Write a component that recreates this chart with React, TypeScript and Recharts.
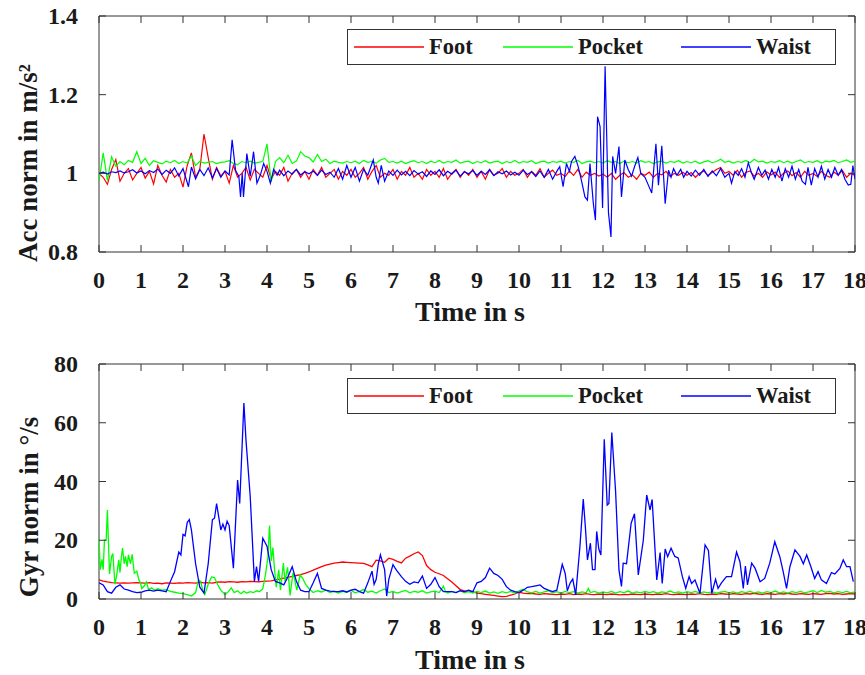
import { LineChart, Line, XAxis, YAxis, ReferenceArea } from "recharts";

const TIME_TICKS = [0, 1, 2, 3, 4, 5, 6, 7, 8, 9, 10, 11, 12, 13, 14, 15, 16, 17, 18];
const ACC_TICKS = [0.8, 1, 1.2, 1.4];
const GYR_TICKS = [0, 20, 40, 60, 80];
const SERIES_NAMES = ["Foot", "Pocket", "Waist"];
const SERIES_COLORS = ["#ff0000", "#00ff00", "#0000ff"];
const DT = 0.1; // sample step of the uniform arrays, in s

// accelerometer norm, m/s^2 (normalised)
const accFoot = [
  1.0, 0.99, 0.972, 1.01, 1.035, 0.98, 1.0, 1.012, 0.983, 1.0,
  1.015, 0.988, 1.005, 0.973, 1.02, 0.995, 0.978, 1.01, 0.99, 1.0,
  0.965, 1.02, 1.052, 0.99, 1.01, 1.1, 1.04, 0.985, 1.015, 0.993,
  1.005, 0.975, 1.02, 0.99, 1.0, 1.015, 0.983, 1.01, 1.0, 0.99,
  1.02, 0.985, 1.005, 0.995, 1.015, 0.98, 1.0, 1.01, 0.99, 1.005,
  0.985, 1.01, 0.995, 1.015, 0.99, 1.0, 1.01, 0.985, 1.005, 0.995,
  1.01, 0.99, 1.0, 1.015, 0.985, 1.005, 1.02, 0.99, 1.0, 0.995,
  1.01, 0.985, 1.005, 0.995, 1.015, 0.99, 1.0, 0.985, 1.01, 0.995,
  1.005, 0.99, 1.012, 0.985, 1.0, 1.01, 0.99, 1.005, 0.995, 1.01,
  0.99, 1.005, 0.985, 1.01, 0.995, 1.0, 1.012, 0.99, 1.005, 0.995,
  1.0, 1.01, 0.99, 1.005, 0.995, 1.012, 0.99, 1.0, 1.008, 0.995,
  1.0, 0.992, 1.006, 0.995, 1.01, 0.99, 1.003, 0.995, 1.0, 0.993,
  0.998, 0.99, 1.0, 0.985, 0.995, 1.002, 0.99, 0.996, 0.985, 1.0,
  0.995, 1.003, 0.99, 1.0, 0.996, 1.005, 0.992, 1.0, 0.995, 1.003,
  0.995, 1.002, 0.99, 1.0, 1.006, 0.995, 1.002, 1.01, 1.015, 1.0,
  1.005, 0.995, 1.008, 0.99, 1.002, 1.006, 0.993, 1.0, 0.99, 1.004,
  0.996, 1.003, 0.99, 1.0, 1.006, 0.994, 1.002, 0.99, 1.005, 0.995,
  1.0, 0.992, 1.005, 0.995, 0.99, 1.003, 0.996, 1.007, 0.99, 1.0,
  0.995,
];

const accPocket = [
  0.98, 1.052, 0.982, 1.042, 1.018, 1.03, 1.022, 1.033, 1.028, 1.055,
  1.025, 1.038, 1.02, 1.032, 1.028, 1.024, 1.031, 1.027, 1.033, 1.025,
  1.03, 1.026, 1.044, 1.02, 1.03, 1.026, 1.028, 1.03, 1.025, 1.028,
  1.029, 1.032, 1.025, 1.022, 1.03, 1.027, 1.031, 1.026, 1.028, 1.03,
  1.075, 0.978, 1.03, 1.04, 1.027, 1.046, 1.025, 1.031, 1.055, 1.044,
  1.04, 1.029, 1.048, 1.03, 1.036, 1.025, 1.031, 1.028, 1.026, 1.03,
  1.027, 1.031, 1.025, 1.033, 1.028, 1.03, 1.026, 1.034, 1.038, 1.028,
  1.03, 1.026, 1.031, 1.025, 1.029, 1.032, 1.027, 1.03, 1.025, 1.031,
  1.027, 1.033, 1.026, 1.03, 1.028, 1.034, 1.026, 1.029, 1.031, 1.025,
  1.03, 1.027, 1.032, 1.026, 1.029, 1.031, 1.025, 1.03, 1.027, 1.033,
  1.026, 1.03, 1.028, 1.032, 1.025, 1.029, 1.031, 1.026, 1.03, 1.028,
  1.031, 1.026, 1.03, 1.028, 1.033, 1.025, 1.029, 1.031, 1.027, 1.03,
  1.026, 1.032, 1.028, 1.03, 1.025, 1.031, 1.027, 1.03, 1.026, 1.032,
  1.028, 1.03, 1.025, 1.029, 1.031, 1.026, 1.03, 1.028, 1.032, 1.026,
  1.03, 1.027, 1.031, 1.025, 1.029, 1.032, 1.027, 1.03, 1.036, 1.028,
  1.031, 1.026, 1.03, 1.028, 1.033, 1.027, 1.036, 1.029, 1.031, 1.026,
  1.03, 1.028, 1.032, 1.027, 1.031, 1.026, 1.03, 1.034, 1.027, 1.03,
  1.028, 1.032, 1.026, 1.031, 1.029, 1.033, 1.027, 1.03, 1.034, 1.028,
  1.031,
];

// [time s, value]
const accWaist: [number, number][] = [
  [0, 1.0], [0.1, 1.003], [0.2, 0.998], [0.3, 1.004], [0.4, 1.002], [0.5, 1.006], [0.6, 1.001],
  [0.7, 1.004], [0.8, 1.009], [0.9, 1.001], [1.0, 1.006], [1.1, 0.999], [1.2, 1.007], [1.3, 1.002],
  [1.4, 1.011], [1.5, 0.997], [1.6, 1.008], [1.7, 1.0], [1.8, 1.014], [1.9, 0.993], [2.0, 1.012],
  [2.13, 0.966], [2.2, 1.016], [2.3, 0.986], [2.4, 1.01], [2.5, 0.994], [2.6, 1.014], [2.7, 0.988],
  [2.8, 1.012], [2.9, 0.99], [3.0, 1.006], [3.1, 0.996], [3.17, 1.085], [3.25, 1.008], [3.33, 0.992],
  [3.37, 0.94], [3.41, 1.0], [3.44, 0.94], [3.52, 1.05], [3.6, 0.992], [3.68, 1.055], [3.76, 0.975],
  [3.84, 0.995], [3.92, 1.025], [4.0, 1.005], [4.08, 0.975], [4.16, 1.01], [4.24, 0.995], [4.3, 1.008],
  [4.4, 0.994], [4.5, 1.006], [4.6, 0.998], [4.7, 1.01], [4.8, 0.996], [4.9, 1.004], [5.0, 0.999],
  [5.1, 1.006], [5.2, 0.995], [5.3, 1.008], [5.4, 0.997], [5.5, 1.003], [5.6, 0.99], [5.7, 1.012],
  [5.8, 0.985], [5.9, 1.02], [6.0, 0.99], [6.1, 1.015], [6.2, 0.98], [6.3, 1.01], [6.4, 0.995],
  [6.53, 1.034], [6.6, 0.99], [6.65, 0.975], [6.72, 1.02], [6.8, 0.98], [6.9, 1.006], [7.0, 0.995],
  [7.1, 1.008], [7.2, 0.996], [7.3, 1.005], [7.4, 0.994], [7.5, 1.007], [7.6, 0.998], [7.7, 1.004],
  [7.8, 0.992], [7.9, 1.006], [8.0, 0.997], [8.1, 1.009], [8.2, 0.994], [8.3, 1.005], [8.4, 0.998],
  [8.5, 1.008], [8.6, 0.993], [8.7, 1.004], [8.8, 0.999], [8.9, 1.007], [9.0, 0.995], [9.1, 1.005],
  [9.2, 0.997], [9.3, 1.009], [9.4, 0.994], [9.5, 1.004], [9.6, 0.999], [9.7, 1.006], [9.8, 0.996],
  [9.9, 1.003], [10.0, 0.995], [10.1, 1.008], [10.2, 0.997], [10.3, 1.004], [10.4, 0.992], [10.5, 1.006],
  [10.6, 0.99], [10.7, 1.01], [10.8, 0.985], [10.9, 1.005], [10.97, 1.017], [11.05, 0.966], [11.13, 1.025],
  [11.2, 1.005], [11.25, 1.03], [11.33, 1.043], [11.41, 1.017], [11.49, 0.98], [11.57, 0.94],
  [11.63, 0.932], [11.69, 1.025], [11.77, 0.923], [11.82, 0.881], [11.87, 1.144], [11.93, 1.119],
  [11.99, 0.912], [12.05, 1.272], [12.13, 0.9], [12.19, 0.838], [12.23, 1.043], [12.3, 1.0],
  [12.38, 1.068], [12.44, 0.94], [12.52, 1.034], [12.6, 1.01], [12.68, 0.993], [12.76, 1.02],
  [12.83, 1.04], [12.9, 1.0], [13.0, 0.99], [13.08, 0.97], [13.16, 0.95], [13.2, 1.0], [13.26, 1.075],
  [13.32, 0.97], [13.4, 1.07], [13.48, 0.923], [13.56, 1.008], [13.62, 0.99], [13.68, 1.012],
  [13.76, 0.995], [13.85, 1.01], [13.92, 0.99], [14.0, 1.005], [14.1, 0.993], [14.2, 1.008],
  [14.3, 0.995], [14.4, 1.01], [14.5, 0.992], [14.6, 1.006], [14.7, 0.994], [14.8, 1.012], [14.9, 0.99],
  [15.0, 1.0], [15.06, 0.975], [15.14, 1.005], [15.22, 0.995], [15.3, 1.012], [15.38, 0.99],
  [15.46, 1.027], [15.54, 1.0], [15.6, 0.985], [15.7, 1.015], [15.78, 0.995], [15.86, 1.008],
  [15.94, 0.985], [16.02, 1.01], [16.1, 0.99], [16.18, 1.015], [16.26, 0.98], [16.34, 1.012],
  [16.42, 0.99], [16.5, 1.018], [16.58, 0.985], [16.66, 1.01], [16.74, 0.98], [16.82, 0.972],
  [16.88, 1.015], [16.96, 0.97], [17.04, 1.012], [17.12, 0.99], [17.2, 1.018], [17.28, 0.985],
  [17.36, 1.01], [17.44, 0.99], [17.52, 1.015], [17.6, 0.995], [17.68, 1.01], [17.76, 0.985],
  [17.84, 0.97], [17.9, 0.972], [17.95, 1.02], [18.0, 0.985],
];

// gyroscope norm, deg/s
const gyrFoot = [
  6.5, 6.1, 5.8, 5.6, 5.5, 5.4, 5.5, 5.4, 5.5, 5.6,
  5.5, 5.4, 5.6, 5.3, 5.4, 5.2, 5.5, 5.4, 5.3, 5.5,
  5.4, 5.6, 5.5, 5.4, 5.7, 5.5, 5.6, 5.4, 5.7, 5.8,
  5.7, 5.9, 5.8, 5.7, 5.9, 5.8, 6.0, 5.9, 5.8, 6.0,
  6.1, 6.2, 6.5, 6.8, 7.1, 7.4, 7.7, 8.0, 8.3, 8.7,
  9.2, 9.8, 10.4, 11.0, 11.5, 11.9, 12.2, 12.4, 12.6, 12.5,
  12.4, 12.3, 12.2, 12.1, 11.6, 11.0, 13.2, 13.0, 12.5, 13.9,
  13.5, 12.8, 12.3, 13.9, 14.6, 15.4, 16.0, 14.8, 11.4, 10.0,
  9.1, 8.6, 8.0, 6.9, 5.8, 4.5, 3.2, 2.8, 2.6, 2.5,
  2.0, 1.8, 1.6, 1.4, 1.2, 1.0, 0.8, 0.9, 1.3, 1.7,
  2.3, 2.0, 1.8, 1.9, 1.7, 1.6, 1.8, 1.7, 1.6, 1.5,
  1.7, 1.6, 1.8, 1.5, 1.7, 1.6, 1.8, 1.6, 1.5, 1.7,
  1.6, 1.5, 1.7, 1.6, 1.4, 1.6, 1.5, 1.7, 1.6, 1.5,
  1.7, 1.6, 1.5, 1.7, 1.6, 1.8, 1.6, 1.5, 1.7, 1.6,
  1.5, 1.7, 1.6, 1.8, 1.6, 1.5, 1.7, 1.6, 1.8, 1.7,
  1.6, 1.8, 1.7, 1.6, 1.8, 1.7, 1.9, 1.7, 1.6, 1.8,
  1.7, 1.6, 1.8, 1.7, 1.9, 1.7, 1.6, 1.8, 1.7, 1.6,
  1.8, 1.7, 1.6, 1.8, 1.9, 1.7, 1.8, 1.6, 1.7, 1.8,
  1.7,
];

const gyrPocket: [number, number][] = [
  [0, 21], [0.03, 10], [0.07, 13.5], [0.1, 10], [0.13, 20], [0.17, 20], [0.2, 30.3], [0.25, 8.5],
  [0.3, 14.5], [0.33, 15.5], [0.38, 5], [0.42, 8], [0.47, 13.3], [0.5, 9], [0.53, 14], [0.56, 17.3],
  [0.6, 12], [0.63, 14.5], [0.67, 11], [0.7, 15], [0.75, 12], [0.79, 15.2], [0.84, 8.8], [0.9, 9.5],
  [0.95, 6.5], [0.98, 5.7], [1.02, 3.5], [1.08, 4.5], [1.13, 5.8], [1.18, 3.2], [1.25, 3.8], [1.32, 3],
  [1.4, 3.5], [1.5, 3], [1.6, 3.2], [1.7, 2.6], [1.8, 2.3], [1.9, 2.0], [2.0, 1.8], [2.1, 1.5],
  [2.2, 1.0], [2.3, 2.2], [2.37, 6.5], [2.42, 6], [2.47, 3], [2.52, 1.5], [2.6, 5], [2.68, 7.5],
  [2.75, 7.3], [2.82, 5], [2.9, 3], [3.0, 1.5], [3.08, 2.5], [3.15, 3.8], [3.22, 2.2], [3.3, 2.8],
  [3.38, 1.8], [3.45, 2.6], [3.52, 2.0], [3.6, 2.5], [3.68, 2.2], [3.75, 2.8], [3.82, 2.5], [3.9, 3.5],
  [3.96, 8], [4.02, 14], [4.06, 25], [4.1, 13], [4.14, 17.5], [4.18, 10], [4.22, 4], [4.28, 9.9],
  [4.32, 3], [4.39, 12.2], [4.43, 6], [4.49, 10.8], [4.55, 1.2], [4.62, 9], [4.66, 6.5], [4.71, 3],
  [4.79, 8.2], [4.85, 7], [4.92, 5], [5.0, 3.5], [5.1, 2.2], [5.2, 2.8], [5.3, 2.4], [5.4, 3.0],
  [5.5, 2.2], [5.6, 2.7], [5.7, 2.0], [5.8, 2.6], [5.9, 2.3], [6.0, 2.9], [6.1, 2.1], [6.2, 2.6],
  [6.3, 3.2], [6.4, 2.3], [6.5, 2.7], [6.6, 2.0], [6.7, 2.8], [6.8, 3.4], [6.9, 2.2], [7.0, 2.6],
  [7.1, 2.0], [7.2, 2.5], [7.3, 2.9], [7.4, 2.1], [7.5, 2.6], [7.6, 2.3], [7.7, 2.8], [7.8, 2.0],
  [7.9, 2.4], [8.0, 2.7], [8.1, 2.2], [8.2, 4.4], [8.25, 2.5], [8.3, 2.0], [8.4, 2.6], [8.5, 2.2],
  [8.6, 2.8], [8.7, 2.1], [8.8, 2.5], [8.9, 2.0], [9.0, 2.6], [9.1, 2.2], [9.2, 2.7], [9.3, 2.0],
  [9.4, 2.4], [9.5, 1.9], [9.6, 2.5], [9.7, 2.1], [9.8, 2.6], [9.9, 2.0], [10.0, 2.8], [10.1, 3.3],
  [10.2, 2.4], [10.3, 2.1], [10.4, 2.6], [10.5, 2.0], [10.6, 2.4], [10.7, 2.8], [10.8, 2.1], [10.9, 2.5],
  [11.0, 2.0], [11.1, 2.6], [11.2, 2.2], [11.3, 2.5], [11.4, 2.0], [11.5, 2.4], [11.6, 2.1], [11.65, 3.6],
  [11.7, 2.2], [11.8, 2.6], [11.9, 2.0], [12.0, 2.4], [12.1, 2.1], [12.2, 2.6], [12.3, 2.0], [12.4, 2.5],
  [12.5, 2.2], [12.6, 2.7], [12.7, 2.0], [12.8, 2.4], [12.9, 2.1], [13.0, 2.6], [13.1, 2.2], [13.2, 2.5],
  [13.3, 2.0], [13.4, 2.4], [13.5, 2.2], [13.6, 2.7], [13.7, 2.1], [13.8, 2.4], [13.9, 2.0], [14.0, 2.5],
  [14.1, 2.2], [14.2, 2.6], [14.3, 2.0], [14.4, 2.4], [14.5, 2.1], [14.6, 2.5], [14.7, 2.0], [14.8, 2.3],
  [14.9, 2.6], [15.0, 2.1], [15.1, 2.4], [15.2, 2.0], [15.3, 2.5], [15.4, 2.2], [15.5, 2.6], [15.6, 2.1],
  [15.7, 2.4], [15.8, 2.0], [15.9, 2.5], [16.0, 2.2], [16.1, 2.7], [16.2, 2.1], [16.3, 2.4], [16.4, 2.0],
  [16.5, 2.5], [16.6, 2.2], [16.7, 2.6], [16.8, 2.1], [16.9, 2.4], [17.0, 2.8], [17.1, 2.2], [17.2, 2.9],
  [17.3, 2.3], [17.4, 2.6], [17.5, 2.1], [17.6, 2.5], [17.7, 2.2], [17.8, 2.6], [17.9, 2.1], [18.0, 2.4],
];

const gyrWaist: [number, number][] = [
  [0, 5.5], [0.1, 4.8], [0.2, 2.5], [0.3, 2.0], [0.4, 4.0], [0.5, 4.8], [0.6, 3.4], [0.7, 3.0],
  [0.8, 2.5], [0.9, 2.2], [1.0, 2.3], [1.1, 2.8], [1.2, 3.0], [1.3, 2.7], [1.4, 3.0], [1.5, 2.8],
  [1.6, 2.5], [1.7, 6.0], [1.8, 9.3], [1.9, 16.0], [1.95, 15.0], [2.0, 22.0], [2.05, 21.5], [2.1, 26.0],
  [2.15, 27.0], [2.2, 23.5], [2.3, 12.0], [2.4, 4.0], [2.5, 2.0], [2.6, 12.0], [2.7, 27.0], [2.75, 27.5],
  [2.8, 32.5], [2.9, 23.5], [2.95, 25.5], [3.0, 23.5], [3.05, 26.5], [3.1, 25.0], [3.2, 10.5],
  [3.3, 40.5], [3.35, 32.5], [3.45, 66.7], [3.5, 54.0], [3.6, 35.0], [3.7, 6.0], [3.75, 11.0],
  [3.8, 6.0], [3.9, 20.7], [4.0, 18.0], [4.1, 10.0], [4.2, 6.0], [4.3, 5.5], [4.4, 4.8], [4.5, 7.6],
  [4.6, 11.0], [4.7, 6.0], [4.8, 3.0], [4.9, 2.5], [5.0, 2.5], [5.1, 5.5], [5.2, 8.7], [5.3, 3.6],
  [5.4, 3.0], [5.5, 2.7], [5.6, 2.5], [5.7, 2.5], [5.8, 2.8], [5.9, 2.4], [6.0, 3.0], [6.1, 3.3],
  [6.2, 2.5], [6.3, 2.0], [6.4, 5.5], [6.5, 9.5], [6.55, 5.0], [6.6, 6.7], [6.65, 12.0], [6.7, 15.0],
  [6.8, 10.0], [6.85, 1.0], [6.9, 6.7], [7.0, 11.7], [7.05, 10.5], [7.1, 9.5], [7.2, 7.6], [7.3, 6.0],
  [7.4, 5.0], [7.5, 5.8], [7.6, 5.5], [7.7, 7.8], [7.8, 3.6], [7.9, 5.0], [8.0, 7.3], [8.1, 4.2],
  [8.2, 2.5], [8.3, 2.5], [8.4, 2.5], [8.5, 2.2], [8.6, 2.8], [8.7, 2.5], [8.8, 3.0], [8.9, 2.5],
  [9.0, 5.5], [9.1, 6.0], [9.2, 7.3], [9.3, 10.5], [9.4, 8.7], [9.5, 8.0], [9.6, 6.7], [9.7, 4.2],
  [9.8, 3.0], [9.9, 2.5], [10.0, 2.2], [10.1, 3.0], [10.2, 4.0], [10.3, 4.2], [10.4, 4.5], [10.5, 4.8],
  [10.6, 3.6], [10.7, 3.0], [10.8, 2.5], [10.9, 3.0], [11.03, 11.8], [11.1, 8.7], [11.15, 2.8],
  [11.22, 5.5], [11.28, 6.8], [11.35, 1.4], [11.45, 17.8], [11.53, 34.0], [11.58, 24.6], [11.63, 13.3],
  [11.7, 19.0], [11.75, 10.0], [11.81, 10.0], [11.85, 23.0], [11.9, 17.0], [11.95, 15.0], [12.03, 54.4],
  [12.1, 32.0], [12.14, 32.5], [12.21, 56.7], [12.3, 36.6], [12.38, 9.9], [12.44, 4.3], [12.48, 12.2],
  [12.56, 12.0], [12.67, 25.8], [12.75, 29.0], [12.84, 8.2], [12.96, 20.0], [13.04, 35.4], [13.12, 30.3],
  [13.17, 33.9], [13.28, 6.5], [13.36, 15.8], [13.41, 5.3], [13.48, 17.0], [13.54, 14.4], [13.62, 17.3],
  [13.71, 14.5], [13.79, 14.0], [13.89, 7.6], [13.97, 3.6], [14.05, 7.6], [14.11, 5.3], [14.19, 6.5],
  [14.31, 1.9], [14.43, 18.4], [14.51, 16.5], [14.59, 1.9], [14.68, 6.7], [14.74, 3.6], [14.82, 5.5],
  [14.94, 7.6], [15.06, 7.6], [15.18, 16.0], [15.26, 12.7], [15.34, 3.6], [15.39, 11.2], [15.44, 4.8],
  [15.54, 12.2], [15.62, 10.5], [15.74, 5.9], [15.85, 7.0], [15.97, 12.2], [16.09, 19.5], [16.21, 14.4],
  [16.29, 9.3], [16.37, 3.6], [16.45, 11.0], [16.57, 16.7], [16.69, 14.5], [16.77, 12.0], [16.85, 15.0],
  [16.95, 11.0], [17.04, 7.0], [17.12, 9.3], [17.2, 6.5], [17.32, 5.3], [17.44, 9.0], [17.52, 8.5],
  [17.64, 10.4], [17.72, 13.3], [17.8, 11.0], [17.88, 11.0], [17.96, 5.9],
];

const FONT = '"Liberation Serif", "Times New Roman", serif';
const INK = "#1a1a1a";
const FRAME = "#333";
const PLOT_LEFT = 99;
const PLOT_W = 756;
const TICK_LEN = 7;

const uniform = (vals: number[]) => vals.map((v, i) => ({ t: Math.round(i * DT * 100) / 100, v }));
const pairs = (p: [number, number][]) => p.map(([t, v]) => ({ t, v }));

function XTick(props: any) {
  const { x, y, payload, plotH } = props;
  return (
    <g>
      <line x1={x} y1={y} x2={x} y2={y - TICK_LEN} stroke={FRAME} />
      <line x1={x} y1={y - plotH} x2={x} y2={y - plotH + TICK_LEN} stroke={FRAME} />
      <text x={x} y={y + 28} textAnchor="middle" dominantBaseline="central"
        fontFamily={FONT} fontWeight={700} fontSize={24} fill={INK}>
        {payload.value}
      </text>
    </g>
  );
}

function YTick(props: any) {
  const { x, y, payload } = props;
  return (
    <g>
      <line x1={x} y1={y} x2={x + TICK_LEN} y2={y} stroke={FRAME} />
      <line x1={x + PLOT_W - TICK_LEN} y1={y} x2={x + PLOT_W} y2={y} stroke={FRAME} />
      <text x={x - 21} y={y} textAnchor="end" dominantBaseline="central"
        fontFamily={FONT} fontWeight={700} fontSize={24} fill={INK}>
        {String(payload.value)}
      </text>
    </g>
  );
}

function LegendBox({ top }: { top: number }) {
  const lineLeft = [6, 155, 333];
  const textLeft = [81, 230, 408];
  return (
    <div style={{
      position: "absolute", left: 347, top, width: 489, height: 36,
      border: `1px solid ${FRAME}`, background: "#fff", boxSizing: "border-box",
      fontFamily: FONT, fontWeight: 700, fontSize: 22.5, color: INK,
    }}>
      <svg width={487} height={34} style={{ position: "absolute", left: 0, top: 0 }}>
        {SERIES_NAMES.map((name, i) => (
          <line key={name} x1={lineLeft[i]} x2={lineLeft[i] + 70} y1={17} y2={17}
            stroke={SERIES_COLORS[i]} strokeWidth={1.3} />
        ))}
      </svg>
      {SERIES_NAMES.map((name, i) => (
        <div key={name} style={{ position: "absolute", left: textLeft[i], top: 3, lineHeight: "28px" }}>{name}</div>
      ))}
    </div>
  );
}

interface PanelProps {
  top: number;
  height: number;
  plotTop: number;
  plotH: number;
  yDomain: [number, number];
  yTicks: number[];
  series: { t: number; v: number }[][];
  strokeWidth: number;
}

function Panel({ top, height, plotTop, plotH, yDomain, yTicks, series, strokeWidth }: PanelProps) {
  return (
    <div style={{ position: "absolute", left: 0, top }}>
      <LineChart width={865} height={height} margin={{ top: plotTop, right: 10, bottom: 0, left: 0 }}>
        <XAxis
          type="number" dataKey="t" domain={[0, 18]} ticks={TIME_TICKS} interval={0}
          height={height - plotTop - plotH} axisLine={false} tickLine={false}
          tickSize={0} tickMargin={0} allowDataOverflow
          tick={(p: any) => <XTick {...p} plotH={plotH} />}
        />
        <YAxis
          type="number" domain={yDomain} ticks={yTicks} interval={0} width={PLOT_LEFT}
          axisLine={false} tickLine={false} tickSize={0} tickMargin={0} allowDataOverflow
          tick={(p: any) => <YTick {...p} />}
        />
        <ReferenceArea x1={0} x2={18} y1={yDomain[0]} y2={yDomain[1]}
          fill="none" fillOpacity={0} stroke={FRAME} strokeWidth={1} ifOverflow="visible" />
        {series.map((data, i) => (
          <Line
            key={SERIES_NAMES[i]}
            name={SERIES_NAMES[i]}
            data={data}
            dataKey="v"
            type="linear"
            stroke={SERIES_COLORS[i]}
            strokeWidth={strokeWidth}
            dot={false}
            activeDot={false}
            isAnimationActive={false}
          />
        ))}
      </LineChart>
    </div>
  );
}

function Title({ text, x, y, rotate, size }: { text: string; x: number; y: number; rotate?: boolean; size: number }) {
  return (
    <div style={{
      position: "absolute", left: x, top: y, whiteSpace: "nowrap", lineHeight: 1,
      transform: `translate(-50%, -50%)${rotate ? " rotate(-90deg)" : ""}`,
      fontFamily: FONT, fontWeight: 700, fontSize: size, color: INK,
    }}>
      {text}
    </div>
  );
}

export default function App() {
  const accSeries = [uniform(accFoot), uniform(accPocket), pairs(accWaist)];
  const gyrSeries = [uniform(gyrFoot), pairs(gyrPocket), pairs(gyrWaist)];
  return (
    <div style={{ position: "absolute", left: 0, top: 0, width: 865, height: 675, background: "#fff", overflow: "hidden" }}>
      <Panel top={0} height={338} plotTop={16} plotH={236} yDomain={[0.8, 1.4]} yTicks={ACC_TICKS}
        series={accSeries} strokeWidth={1.2} />
      <Panel top={340} height={335} plotTop={24} plotH={235} yDomain={[0, 80]} yTicks={GYR_TICKS}
        series={gyrSeries} strokeWidth={1.3} />
      <LegendBox top={29} />
      <LegendBox top={378} />
      <Title text="Acc norm in m/s²" x={28} y={163} rotate size={27} />
      <Title text="Gyr norm in °/s" x={29} y={507} rotate size={27} />
      <Title text="Time in s" x={470} y={312} size={28} />
      <Title text="Time in s" x={470} y={660} size={28} />
    </div>
  );
}
